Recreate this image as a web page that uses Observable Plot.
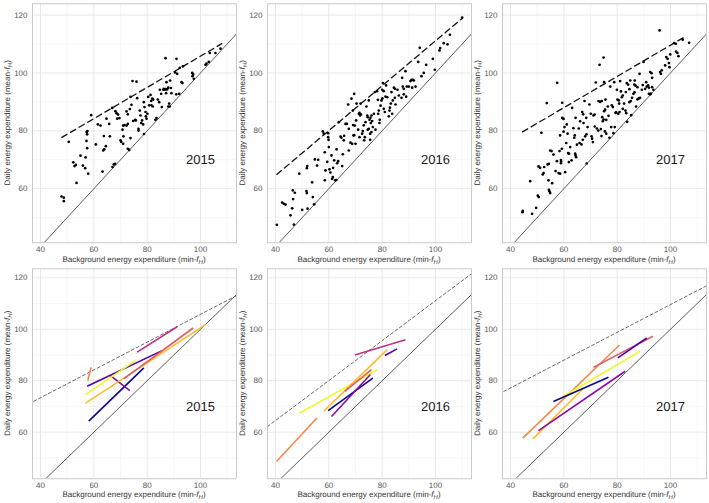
<!DOCTYPE html>
<html><head><meta charset="utf-8">
<script src="https://cdn.jsdelivr.net/npm/d3@7"></script>
<script src="https://cdn.jsdelivr.net/npm/@observablehq/plot@0.6"></script>
<style>
body{margin:0;background:#fff;}
#chart{position:relative;width:709px;height:503px;overflow:hidden;font-family:"Liberation Sans",Arial,sans-serif;}
#chart svg{position:absolute;text-rendering:geometricPrecision;}
</style></head><body><div id="chart"></div>
<script>
// ---------- DATA ----------
const years = ["2015", "2016", "2017"];
const xTicks = [40, 60, 80, 100];
const yTicks = [60, 80, 100, 120];
const xMinor = [50, 70, 90, 110];
const yMinor = [50, 70, 90, 110];

// Population fits (slope, intercept) and fitted x range (top panels)
const fitSlope = [0.54, 0.776, 0.54];
const fitIntercept = [51.8, 33.5, 55.6];
const fitXmin = [48, 40.5, 44.5];
const fitXmax = [108, 110, 105];

// Scatter points: [background (min-fH), daily (mean-fH)]
const pts2015 = [[47.9,57.3],[48.75,56.9],[48.75,55.7],[50.6,76.2],[52.3,69.1],[52.75,67.8],[53.25,68.2],[53.5,62],[55,71.4],[55.9,68],[56.9,70.8],[56.75,67.1],[57.3,79.6],[57.5,78.8],[57.6,79.9],[57.25,76.5],[57.5,74],[57.9,65.2],[59,85.4],[60.75,75.3],[61.5,82.2],[62.5,81.8],[63.25,65.9],[63.75,78.2],[63.5,73.2],[63.9,73.6],[64.5,74.7],[64.75,84.2],[65.75,82.4],[66,78.1],[66.9,87.9],[67,67.5],[67.5,68.4],[68,68.6],[68.1,86.8],[68.5,86.1],[68.75,84.2],[69.1,85.6],[69.6,84.4],[70,76.7],[70.25,76.2],[70.75,80.4],[71,81.8],[71.5,82],[72.25,81.8],[72.75,82.4],[71,75.5],[71.1,78.1],[72.25,86.7],[72.75,85.7],[72.75,73.8],[73.25,73.4],[73.5,87.5],[73.75,91.7],[73.75,77.5],[74.1,89],[74.5,97.2],[74.75,83.4],[75.5,83.8],[75.75,83.6],[76,97],[76.25,91.3],[76.75,80.7],[76.75,80.1],[77.25,87],[77.5,85.3],[77.75,82.7],[78.1,83.6],[78.5,82.2],[78.8,78.9],[78.75,89.9],[79,88.2],[79.4,86.5],[79.5,85],[79.75,84.2],[80.1,85.9],[80.4,91.7],[80.75,88.8],[81.25,92.4],[81.5,90.3],[81.9,91.1],[82.25,90.8],[81.6,88.8],[82.1,88.4],[83.1,83.8],[83.5,84.4],[84,90.8],[84.5,89.9],[84.75,94.2],[85.25,92.8],[85.5,88.2],[86,94.2],[86.25,94.5],[86.6,94.2],[87,94.4],[86.9,105.1],[87.1,93],[87.25,96.8],[87.5,94.3],[87.9,94.9],[87.9,88.4],[88.25,89.4],[88.5,88.4],[88.6,97.4],[88.9,94.8],[89.1,93],[90.5,100.2],[90.9,92.6],[91,104.9],[91.25,99.7],[92,92.8],[92.25,101.8],[92.9,96.8],[93.25,96.5],[93.4,102.3],[96.9,100],[97.25,99.5],[97,98.9],[97.5,98],[101.9,102.8],[102.25,103.2],[103.1,103.8],[103.5,106.9],[105.6,106.9],[107.5,108.4]];

const pts2016 = [[40.5,47.5],[42.5,55.2],[43.1,54.8],[43.75,54.5],[45.6,50.8],[46.25,53.2],[46.5,59.4],[47.25,58.6],[46.6,56.4],[46.9,47.6],[48.9,65.2],[50,52.7],[51.6,59.2],[51.75,58.5],[51.75,67.1],[51.9,67.8],[52,53.1],[53.75,62.2],[54,57.1],[54.5,54.6],[54.75,70.1],[56,70],[55.6,68],[57.75,79.8],[58.1,79],[58.5,72.6],[58.5,62.9],[58.75,66.3],[59.4,69.3],[59.75,79.2],[59.75,77.8],[59.9,76.9],[60,74.4],[60.25,66.7],[60.6,65.6],[61,71.5],[61.25,63.4],[61.5,64],[62.4,62.9],[62.8,63],[61.6,67.2],[62,69.8],[62.9,73.6],[63.1,68.8],[63.5,69.5],[63.75,83],[64.4,78],[64.75,77.6],[65,67.8],[65.25,71.9],[65.6,76.7],[65.75,78.3],[66.25,82.4],[66.75,82.4],[67.25,89.1],[67.5,80.7],[67.5,73.2],[68.1,75.9],[68.75,75.5],[68.5,91.1],[69,87],[69.1,82],[69.25,78.4],[69.5,78.5],[69.5,92.8],[69.75,81.8],[70,75.5],[70.25,83.6],[70.4,89.4],[71,80.4],[71.25,85.9],[71.5,86.2],[71.75,85.3],[72,85.7],[71.5,77.8],[71.9,89.4],[72.5,79],[72.75,79.9],[73.1,81.9],[73.5,77.8],[73.25,76.7],[73.75,83],[74.1,88.4],[74.4,85.3],[74.6,84.7],[74.6,80.4],[75,80.7],[75,90.5],[75.25,83.8],[75.6,84.5],[76,85.3],[75.5,79],[76,79.6],[75.5,76.9],[75.75,82.7],[76.25,83.4],[76.5,81.3],[76.9,85.9],[77.25,93.4],[77.5,80.4],[78.1,93.7],[78.4,90.7],[78.5,85.9],[78.75,87],[79,82.7],[79.1,83.8],[79.4,88.7],[79.75,90.5],[80.1,91.2],[80,94.2],[80.6,93.7],[80.25,96.5],[80.6,87.6],[81,86.5],[81.25,91.8],[81.5,95.7],[81.9,91.6],[82.5,85],[82.75,87],[82.9,88],[83.25,89.4],[83.5,93.4],[83.75,85.9],[84,90.5],[84.4,94.9],[84.75,94.5],[84.75,91.4],[85,89.1],[85.75,94.2],[86.25,92.2],[87.25,91.4],[87.5,98.3],[87.75,95.3],[88.1,94.5],[88.1,92.6],[88.75,100.6],[89,91.8],[89.25,95.3],[90,95.3],[90.6,97.2],[91,97.6],[91.5,97.6],[91.9,97.4],[91.25,94.9],[92.5,95.3],[93.5,103.8],[94.1,108.7],[94.75,98.9],[95.6,100],[96.5,102.8],[99,104.9],[99.75,101.1],[101.5,107.8],[101.75,108.6],[103.1,110.3],[104.5,109.9],[105.4,113.2],[110,119.1]];

const pts2017 = [[44.5,51.9],[44.6,52.3],[47.4,62.6],[48.1,51.3],[49.6,53.4],[50.25,57.6],[50.6,57.1],[50.5,67.7],[51.1,67.2],[51.6,79.3],[52.1,64.9],[52.4,65.4],[52.6,67.5],[53.6,89.6],[53.9,68.4],[54.4,68.6],[54.25,62.9],[54.4,59.6],[54.6,59.1],[54.9,58.5],[54.9,73.2],[55.4,73],[55.6,61.9],[56.1,71.8],[56.9,66.1],[57.4,69.5],[57.5,96.6],[58,65.4],[58.6,65.2],[58.4,73],[58.6,78.4],[58.9,69.9],[59,69.4],[58.9,68.8],[59.25,73.8],[59.4,89.7],[59.4,84.5],[59.9,84.1],[59.9,79.7],[60.25,81.3],[60.5,65.7],[60.9,75.8],[61.1,82.2],[61.4,79],[61.6,72.3],[61.9,72.1],[61.9,69.2],[62.4,74.4],[62.9,69.8],[63.1,87.9],[63.6,80.9],[63.9,77.6],[64.1,78.4],[64.25,72.1],[64.4,71.5],[64.6,70.9],[64.4,84.5],[64.9,75.2],[65.6,80.8],[65.9,75.8],[66.1,83.3],[66.6,75.3],[66.9,86.5],[67.25,85.7],[67.1,76.9],[67.4,82.7],[67.75,90.3],[68,78.1],[68.5,78.8],[68.4,84.5],[68.6,68.7],[68.9,81.3],[69.6,89.1],[70.1,85.9],[70.4,78.1],[70.6,77.3],[70.9,76.1],[71.1,85.3],[71.5,85.6],[71.6,81.5],[72,96.7],[72.4,80.8],[72.9,80.1],[73,90.3],[73.4,102.8],[73.6,90],[74.25,90.3],[73.9,80.6],[74.1,78.2],[74.4,84.7],[74.9,83.9],[74.6,83.3],[74.9,105.3],[75.1,96.8],[75.1,86.8],[75.5,87.3],[75.4,79.8],[75.9,79],[75.6,90.8],[75.9,83.8],[76.5,88.4],[76.75,85.2],[77.1,77.6],[77.4,95.3],[77.75,81.3],[78,88.8],[78.4,88.2],[78.6,79.2],[78.9,96.8],[79.1,81.3],[79.4,86.2],[79.6,86.4],[79.9,94.2],[80.1,90.8],[80.6,90.5],[80.4,85.9],[80.9,86.5],[80.75,89.4],[81.1,97.2],[81.4,93.6],[81.75,91.6],[82.1,92.2],[82.1,87.6],[82.6,89.4],[83.1,87],[83.4,86.1],[83.25,93.4],[83.6,96.5],[84.1,96],[83.75,83.1],[84.6,94.4],[84.6,89.9],[85.1,90.3],[84.9,97.4],[85.25,85.4],[85.6,91.4],[86.1,92.8],[86.5,93.3],[86.4,96],[86.9,95.6],[86.6,97.4],[87.1,88.4],[87.6,95.1],[87.6,90.9],[88.1,91.2],[88.4,99.7],[88.6,91.4],[89.25,94.2],[89.6,95.8],[89.9,103.8],[90.5,94.5],[90.9,96.8],[91.1,95.3],[91.6,95.7],[91.9,94.9],[91.9,92.8],[92.4,92.6],[92.6,92.9],[92.4,100.3],[92.9,99.9],[93.1,98.3],[93.1,95.1],[93.6,94.2],[96.1,100.3],[96.4,99.7],[96.75,100.9],[95.9,114.7],[98,102.6],[98.4,105.5],[98.9,104.9],[99.4,103.4],[99.6,102],[99.9,106.4],[101.4,110.3],[102,110.1],[102.1,107.4],[102.6,106.9],[103,105.8],[104.6,111.5],[107,110.4]];

// Individual regression segments: [x1, y1, x2, y2], with individual index
const seg2015 = [[57.75,80.1,59,85.2],[58.1,64.3,78.75,85],[57.5,77.9,85.6,91.7],[66.25,82,73.5,76.2],[56.9,74.6,75.6,87.8],[56.9,71.3,101.9,101.8],[71.25,80.7,97.25,100.5],[76.25,91.1,91.25,101]];
const ind2015 = [5, 0, 1, 2, 7, 6, 4, 3];
const seg2016 = [[40.4,48.6,55.6,65.6],[49,67.4,78.1,84.3],[58.1,68.2,81.9,92.1],[59.75,68.4,76.5,81],[61,66.1,75.6,82.4],[66,75.9,76,84.3],[69.75,90,88.75,95.9],[81,89.8,85.6,92.4]];
const ind2016 = [5, 7, 6, 0, 2, 4, 3, 1];
const seg2017 = [[44.6,57.7,80.9,93.9],[48.4,57.4,67.1,76.8],[50.5,60.6,83,83.7],[59.25,73.6,88.6,91.5],[56.1,71.9,76.75,81.4],[71.1,85.2,93.4,97.3],[80.25,88.9,91.1,96.6]];
const ind2017 = [5, 6, 2, 7, 0, 4, 1];

const ptsByYear = [pts2015, pts2016, pts2017];
const segByYear = [seg2015, seg2016, seg2017];
const indByYear = [ind2015, ind2016, ind2017];

// ---------- STYLE / LAYOUT ----------
const plasma8 = ["#0D0887","#5402A3","#8B0AA5","#B93289","#DB5C68","#F48849","#FEBC2A","#F0F921"];
const xDom = [37, 113.5];
const rows = [
  {top: 0, height: 265, mt: 3.3, mb: 22.7, yDom: [41.3, 123.9], xTitleY: 261.5},
  {top: 265, height: 238, mt: 3.3, mb: 24.7, yDom: [41.9, 123.5], xTitleY: 232}
];
const colLeft = [0, 235, 470];
const W = 239, ML = 32, MR = 3;
const labelPos = {x: 100, y: 70};

const chart = document.getElementById("chart");

function panel(r, c) {
  const row = rows[r];
  const marks = [
    Plot.gridX(xMinor, {stroke: "#f0f0f0", strokeOpacity: 1, strokeWidth: 0.6}),
    Plot.gridY(yMinor, {stroke: "#f0f0f0", strokeOpacity: 1, strokeWidth: 0.6}),
    Plot.gridX(xTicks, {stroke: "#e2e2e2", strokeOpacity: 1, strokeWidth: 0.8}),
    Plot.gridY(yTicks, {stroke: "#e2e2e2", strokeOpacity: 1, strokeWidth: 0.8}),
    Plot.axisX(xTicks, {tickSize: 0, tickPadding: 3.5, fontSize: 8, color: "#555", label: null}),
    Plot.axisY(yTicks, {tickSize: 0, tickPadding: 5, fontSize: 8, color: "#555", label: null}),
    // 1:1 line
    Plot.line([xDom[0] - 10, xDom[1] + 10].map(v => ({x: v, y: v})), {x: "x", y: "y", stroke: "#333", strokeWidth: 0.8, clip: true})
  ];
  const s = fitSlope[c], b = fitIntercept[c];
  if (r === 0) {
    const fit = [fitXmin[c], fitXmax[c]].map(v => ({x: v, y: s * v + b}));
    marks.push(Plot.line(fit, {x: "x", y: "y", stroke: "#111", strokeWidth: 1.3, strokeDasharray: "6,4"}));
    marks.push(Plot.dot(ptsByYear[c], {x: d => d[0], y: d => d[1], r: 1.35, fill: "#000", stroke: "none"}));
  } else {
    const fit = [xDom[0] - 5, xDom[1] + 5].map(v => ({x: v, y: s * v + b}));
    marks.push(Plot.line(fit, {x: "x", y: "y", stroke: "#444", strokeWidth: 0.8, strokeDasharray: "3,2.5", clip: true}));
    const segs = segByYear[c].map((d, i) => ({x1: d[0], y1: d[1], x2: d[2], y2: d[3], col: plasma8[indByYear[c][i]]}));
    marks.push(Plot.link(segs, {x1: "x1", y1: "y1", x2: "x2", y2: "y2", stroke: d => d.col, strokeWidth: 1.6}));
  }
  marks.push(Plot.text([years[c]], {x: () => labelPos.x, y: () => labelPos.y, text: d => d, fontSize: 13, fontWeight: "normal", fill: "#1a1a1a"}));
  marks.push(Plot.frame({stroke: "#bdbdbd", strokeWidth: 0.8}));

  const svg = Plot.plot({
    width: W, height: row.height,
    marginLeft: ML, marginRight: MR, marginTop: row.mt, marginBottom: row.mb,
    x: {domain: xDom}, y: {domain: row.yDom},
    style: {fontFamily: "Liberation Sans, Arial, sans-serif", background: "transparent", overflow: "visible"},
    marks
  });
  svg.style.left = colLeft[c] + "px";
  svg.style.top = row.top + "px";

  const g = d3.select(svg);
  const pl = ML, pr = W - MR, pt = row.mt, pb = row.height - row.mb;
  const xt = g.append("text").attr("x", (pl + pr) / 2).attr("y", row.xTitleY)
    .attr("text-anchor", "middle").attr("font-size", 8).attr("fill", "#333")
    .attr("font-family", "Liberation Sans, Arial, sans-serif");
  xt.append("tspan").text("Background energy expenditure (min-");
  xt.append("tspan").attr("font-style", "italic").text("f");
  xt.append("tspan").attr("font-style", "italic").attr("font-size", 6).attr("dy", 2).text("H");
  xt.append("tspan").attr("dy", -2).text(")");

  const yt = g.append("text")
    .attr("transform", `translate(7.5,${(pt + pb) / 2}) rotate(-90)`)
    .attr("dy", "0.35em")
    .attr("text-anchor", "middle").attr("font-size", 8).attr("fill", "#333")
    .attr("font-family", "Liberation Sans, Arial, sans-serif");
  yt.append("tspan").text("Daily energy expenditure (mean-");
  yt.append("tspan").attr("font-style", "italic").text("f");
  yt.append("tspan").attr("font-style", "italic").attr("font-size", 6).attr("dy", 2).text("H");
  yt.append("tspan").attr("dy", -2).text(")");

  chart.appendChild(svg);
}

for (let r = 0; r < 2; r++) for (let c = 0; c < 3; c++) panel(r, c);
</script></body></html>
